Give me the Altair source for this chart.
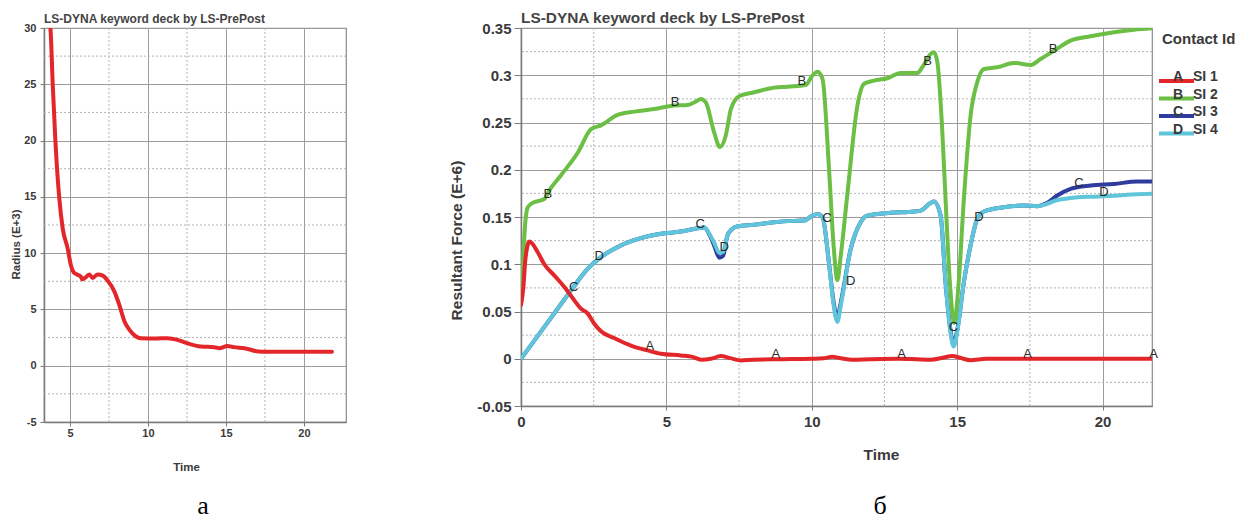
import altair as alt
import pandas as pd

FONT = "Liberation Sans"
TXT = "#3a3a3a"
GRID = "#9c9c9c"
MINOR = "#b4b4b4"

# ---------------- panel а : Radius (E+3) vs Time ----------------
rad_time = [3.60, 3.74, 3.89, 4.06, 4.31, 4.53, 4.85, 5.06, 5.23, 5.45, 5.70, 5.77,
            6.00, 6.24, 6.45, 6.77, 7.10, 7.40, 7.84, 8.16, 8.48, 8.80, 9.23, 9.55,
            10.5, 11.26, 11.9, 12.5, 13.4, 14.25, 14.57, 15.1, 15.5, 16.17, 17.1,
            17.65, 21.8]
rad_value = [31.0, 30.0, 25.0, 20.0, 14.9, 12.2, 10.4, 8.9, 8.3, 8.1, 7.9, 7.67,
             7.85, 8.1, 7.8, 8.1, 8.0, 7.6, 6.6, 5.4, 3.98, 3.2, 2.6, 2.45,
             2.42, 2.45, 2.3, 2.0, 1.7, 1.65, 1.56, 1.76, 1.65, 1.56, 1.26,
             1.23, 1.23]
a_xticks = [5, 10, 15, 20]
a_yticks = [-5, 0, 5, 10, 15, 20, 25, 30]
a_xminor = [7.5, 12.5, 17.5]
a_yminor = [-2.5, 2.5, 7.5, 12.5, 17.5, 22.5, 27.5]

# ---------------- panel б : Resultant Force (E+6) vs Time ----------------
A_t = [0, 0.08, 0.15, 0.29, 0.57, 0.8, 1.15, 1.49, 1.83, 2.06, 2.29, 2.52, 2.75, 3.2,
       3.78, 4.35, 4.81, 5.5, 5.9, 6.19, 6.53, 6.87, 7.2, 7.56, 8.0, 9.0, 10.0, 10.4,
       10.7, 11.0, 11.4, 12.0, 13.0, 13.6, 14.1, 14.5, 14.83, 15.1, 15.46, 16.0, 18.0,
       20.0, 21.7]
A_v = [0.057, 0.075, 0.105, 0.124, 0.113, 0.100, 0.088, 0.076, 0.062, 0.053, 0.048,
       0.037, 0.029, 0.022, 0.014, 0.0088, 0.0053, 0.0035, 0.002, -0.001, 0.0, 0.0028,
       0.0007, -0.0018, -0.001, -0.0005, 0.0, 0.0005, 0.002, 0.0005, -0.001, -0.0005,
       0.0, -0.0005, -0.001, 0.001, 0.003, 0.001, -0.0015, 0.0, 0.0, 0.0, 0.0]

B_t = [0, 0.08, 0.15, 0.23, 0.4, 0.8, 0.97, 1.37, 1.95, 2.41, 2.75, 3.32, 3.9, 4.58,
       5.27, 5.73, 6.0, 6.19, 6.36, 6.64, 6.84, 7.04, 7.22, 7.5, 8.02, 8.59, 9.16,
       9.79, 10.02, 10.2, 10.37, 10.6, 10.75, 10.88, 11.0, 11.23, 11.57, 11.8, 12.14,
       12.6, 13.06, 13.63, 13.8, 14.09, 14.2, 14.32, 14.49, 14.6, 14.75, 14.9, 15.05,
       15.23, 15.46, 15.69, 15.92, 16.38, 16.95, 17.53, 17.87, 18.33, 18.9, 19.59,
       20.39, 21.08, 21.7]
B_v = [0.058, 0.11, 0.145, 0.16, 0.165, 0.169, 0.178, 0.194, 0.218, 0.243, 0.247,
       0.258, 0.2615, 0.2643, 0.268, 0.2686, 0.272, 0.275, 0.271, 0.2397, 0.224,
       0.236, 0.2643, 0.2777, 0.282, 0.2862, 0.2879, 0.2897, 0.2996, 0.3038, 0.296,
       0.197, 0.12, 0.083, 0.11, 0.176, 0.268, 0.291, 0.2943, 0.2968, 0.3024, 0.3024,
       0.3084, 0.3225, 0.3243, 0.3137, 0.2397, 0.169, 0.08, 0.038, 0.08, 0.169, 0.257,
       0.2926, 0.3066, 0.3084, 0.313, 0.3109, 0.3172, 0.326, 0.3366, 0.3412, 0.3454,
       0.3482, 0.3497]

C_t = [0, 0.5, 1.0, 1.72, 2.29, 2.75, 3.44, 4.12, 4.81, 5.5, 6.07, 6.3, 6.5, 6.64,
       6.82, 6.95, 7.1, 7.25, 7.45, 8.02, 8.7, 9.39, 9.74, 10.02, 10.2, 10.37, 10.6,
       10.75, 10.88, 11.0, 11.34, 11.68, 11.91, 12.71, 13.52, 13.75, 14.09, 14.2,
       14.43, 14.6, 14.75, 14.88, 15.0, 15.23, 15.46, 15.69, 15.92, 16.6, 17.3, 17.75,
       18.1, 18.44, 18.9, 19.59, 20.39, 21.19, 21.7]
C_v = [0.0, 0.021, 0.042, 0.0722, 0.095, 0.1075, 0.12, 0.1276, 0.1322, 0.1346, 0.1382,
       0.139, 0.13, 0.12, 0.107, 0.109, 0.1304, 0.137, 0.1403, 0.1417, 0.1445, 0.1459,
       0.1462, 0.1515, 0.1533, 0.1498, 0.0987, 0.06, 0.044, 0.06, 0.1163, 0.1445,
       0.1515, 0.1544, 0.1558, 0.1568, 0.165, 0.1664, 0.1515, 0.081, 0.035, 0.016,
       0.03, 0.081, 0.12, 0.148, 0.1558, 0.1604, 0.1621, 0.1615, 0.165, 0.1727,
       0.1798, 0.1833, 0.185, 0.1875, 0.1875]

D_t = C_t
D_v = [0.0, 0.021, 0.042, 0.0722, 0.095, 0.1075, 0.12, 0.1276, 0.1322, 0.1346, 0.1382,
       0.139, 0.131, 0.123, 0.112, 0.113, 0.1304, 0.137, 0.1403, 0.1417, 0.1445, 0.1459,
       0.1462, 0.1515, 0.1533, 0.1498, 0.0987, 0.057, 0.039, 0.057, 0.1163, 0.1445,
       0.1515, 0.1544, 0.1558, 0.1568, 0.165, 0.1664, 0.1515, 0.081, 0.032, 0.013,
       0.028, 0.081, 0.12, 0.148, 0.1558, 0.1604, 0.1621, 0.1615, 0.164, 0.168,
       0.170, 0.1715, 0.1725, 0.174, 0.1745]

# letter markers along the curves
A_lab_t = [4.43, 8.76, 13.09, 17.42, 21.75]
A_lab_v = [0.014, 0.005, 0.005, 0.005, 0.005]
B_lab_t = [0.92, 5.3, 9.66, 13.98, 18.3]
B_lab_v = [0.1745, 0.272, 0.2943, 0.3155, 0.3278]
C_lab_t = [1.81, 6.16, 10.52, 14.87, 19.19]
C_lab_v = [0.0758, 0.1428, 0.1488, 0.0335, 0.1861]
D_lab_t = [2.69, 6.99, 11.34, 15.75, 20.05]
D_lab_v = [0.1086, 0.1181, 0.0818, 0.1498, 0.1763]

series_ids = ["A", "B", "C", "D"]
series_names = ["SI 1", "SI 2", "SI 3", "SI 4"]
series_colors = ["#e2262a", "#6cbf45", "#2f3c9e", "#5ec5da"]

b_xticks = [0, 5, 10, 15, 20]
b_yticks = [-0.05, 0, 0.05, 0.1, 0.15, 0.2, 0.25, 0.3, 0.35]
b_xminor = [2.5, 7.5, 12.5, 17.5]
b_yminor = [-0.025, 0.025, 0.075, 0.125, 0.175, 0.225, 0.275, 0.325]


def axis(values, title, size, tick, lpad, tx, ty, fmt=False):
    kw = dict(values=values, title=title, grid=True, gridColor=GRID, gridWidth=1,
              domainColor="#7a7a7a", domainWidth=1.5, tickColor="#7a7a7a",
              tickSize=tick, labelPadding=lpad, labelFlush=False,
              labelFont=FONT, labelFontSize=size, labelFontWeight="bold",
              labelColor=TXT, titleFont=FONT, titleFontSize=size + 0.5,
              titleFontWeight="bold", titleColor=TXT,
              titleX=tx, titleY=ty, titleBaseline="middle", titleAlign="center")
    if fmt:
        kw["labelExpr"] = "'' + datum.value"
    return alt.Axis(**kw)


# ---------------- build panel а ----------------
xa = alt.Scale(domain=[3.33, 22.7], nice=False, zero=False)
ya = alt.Scale(domain=[-5, 30], nice=False, zero=False)

a_line = alt.Chart(pd.DataFrame({"t": rad_time, "v": rad_value})).mark_line(
    color="#e2262a", strokeWidth=4, clip=True, interpolate="monotone",
    strokeCap="round", strokeJoin="round"
).encode(
    x=alt.X("t:Q", scale=xa, axis=axis(a_xticks, "Time", 11, 4, 1, 142, 45)),
    y=alt.Y("v:Q", scale=ya,
            axis=axis(a_yticks, "Radius (E+3)", 11, 4, 4, -28, 216, fmt=True)),
)
a_gx = alt.Chart(pd.DataFrame({"t": a_xminor})).mark_rule(
    color=MINOR, strokeDash=[2, 2], strokeWidth=1).encode(x=alt.X("t:Q", scale=xa))
a_gy = alt.Chart(pd.DataFrame({"v": a_yminor})).mark_rule(
    color=MINOR, strokeDash=[2, 2], strokeWidth=1).encode(y=alt.Y("v:Q", scale=ya))
a_cap = alt.Chart(pd.DataFrame({"c": ["а"]})).mark_text(
    font="Liberation Serif", fontSize=26, color="black", baseline="alphabetic",
    align="center").encode(x=alt.value(159), y=alt.value(486), text="c:N")

left = alt.layer(a_gx, a_gy, a_line, a_cap).properties(
    width=302, height=394,
    title=alt.Title("LS-DYNA keyword deck by LS-PrePost", anchor="start", frame="group",
                    fontSize=12, font=FONT, fontWeight="bold", color="#444",
                    offset=0, dy=4),
)

# ---------------- build panel б ----------------
xb = alt.Scale(domain=[0, 21.7], nice=False, zero=False)
yb = alt.Scale(domain=[-0.05, 0.35], nice=False, zero=False)
cscale = alt.Scale(domain=series_ids, range=series_colors)

rows = []
for sid, ts, vs in [("A", A_t, A_v), ("B", B_t, B_v), ("C", C_t, C_v), ("D", D_t, D_v)]:
    for t, v in zip(ts, vs):
        rows.append({"t": t, "v": v, "id": sid})
curves = pd.DataFrame(rows)

lab_rows = []
for sid, ts, vs in [("A", A_lab_t, A_lab_v), ("B", B_lab_t, B_lab_v),
                    ("C", C_lab_t, C_lab_v), ("D", D_lab_t, D_lab_v)]:
    for t, v in zip(ts, vs):
        lab_rows.append({"t": t, "v": v, "id": sid})
labels = pd.DataFrame(lab_rows)

b_gx = alt.Chart(pd.DataFrame({"t": b_xminor})).mark_rule(
    color=MINOR, strokeDash=[2, 2], strokeWidth=1).encode(x=alt.X("t:Q", scale=xb))
b_gy = alt.Chart(pd.DataFrame({"v": b_yminor})).mark_rule(
    color=MINOR, strokeDash=[2, 2], strokeWidth=1).encode(y=alt.Y("v:Q", scale=yb))

base = alt.Chart(curves)
b_layers = [b_gx, b_gy]
first = True
for sid in ["C", "D", "B", "A"]:
    enc = dict(
        x=alt.X("t:Q", scale=xb,
                axis=axis(b_xticks, "Time", 15, 4, 4, 360, 48) if first else alt.Undefined),
        y=alt.Y("v:Q", scale=yb,
                axis=axis(b_yticks, "Resultant Force (E+6)", 15, 7, 3, -65, 212, fmt=True)
                if first else alt.Undefined),
        color=alt.Color("id:N", scale=cscale, legend=None),
    )
    first = False
    b_layers.append(
        base.transform_filter(alt.datum.id == sid).mark_line(
            strokeWidth=4, clip=True, interpolate="monotone",
            strokeCap="round", strokeJoin="round").encode(**enc)
    )

b_text = alt.Chart(labels).mark_text(
    font=FONT, fontSize=13, color="#2a2a2a", baseline="middle", align="center"
).encode(x=alt.X("t:Q", scale=xb), y=alt.Y("v:Q", scale=yb), text="id:N")
b_layers.append(b_text)

# legend (Contact Id), placed to the right of the plot area
leg = pd.DataFrame({
    "id": series_ids,
    "name": series_names,
    "py": [53 + 17.5 * i for i in range(4)],
})
leg_base = alt.Chart(leg)
leg_line = leg_base.mark_rule(strokeWidth=4).encode(
    x=alt.value(638), x2=alt.value(673), y=alt.Y("py:Q", scale=None),
    color=alt.Color("id:N", scale=cscale, legend=None))
leg_letter = leg_base.mark_text(font=FONT, fontSize=14, fontWeight="bold", color=TXT,
                                baseline="alphabetic", align="center").encode(
    x=alt.value(657), y=alt.Y("py:Q", scale=None), text="id:N")
leg_name = leg_base.mark_text(font=FONT, fontSize=14, fontWeight="bold", color=TXT,
                              baseline="alphabetic", align="left").encode(
    x=alt.value(672), y=alt.Y("py:Q", scale=None), text="name:N")
leg_title = alt.Chart(pd.DataFrame({"c": ["Contact Id"]})).mark_text(
    font=FONT, fontSize=15, fontWeight="bold", color=TXT, baseline="middle",
    align="left").encode(x=alt.value(641), y=alt.value(11), text="c:N")
b_cap = alt.Chart(pd.DataFrame({"c": ["б"]})).mark_text(
    font="Liberation Serif", fontSize=26, color="black", baseline="alphabetic",
    align="center").encode(x=alt.value(359), y=alt.value(486), text="c:N")
b_layers += [leg_line, leg_letter, leg_name, leg_title, b_cap]

right = alt.layer(*b_layers).properties(
    width=631, height=378,
    title=alt.Title("LS-DYNA keyword deck by LS-PrePost", anchor="start", frame="group",
                    fontSize=15.4, font=FONT, fontWeight="bold", color="#444",
                    offset=0, dy=5),
)

chart = alt.hconcat(left, right, spacing=175, bounds="flush").properties(
    padding={"left": 9, "top": 10, "right": 0, "bottom": 0}
).configure_view(stroke="#8a8a8a", strokeWidth=1.2)

chart.save("out.html", embed_options={"renderer": "svg", "actions": False})
